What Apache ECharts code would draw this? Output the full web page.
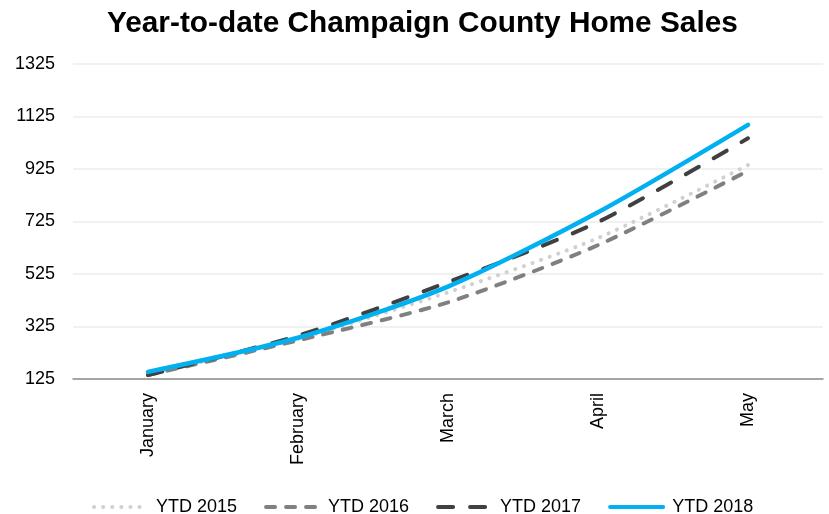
<!DOCTYPE html>
<html>
<head>
<meta charset="utf-8">
<script src="https://cdn.jsdelivr.net/npm/echarts@6/dist/echarts.min.js"></script>
<style>
html, body { margin: 0; padding: 0; background: #fff; }
#chart { width: 829px; height: 514px; }
</style>
</head>
<body>
<div id="chart"></div>
<script>
// months on the x axis
var months = ['January', 'February', 'March', 'April', 'May'];
// year-to-date sales
var ytd2015 = [145, 278, 455, 662, 940];
var ytd2016 = [140, 272, 417, 635, 918];
var ytd2017 = [140, 290, 494, 723, 1042];
var ytd2018 = [152, 282, 477, 760, 1093];

var myChart = echarts.init(document.getElementById('chart'));

function lineSeries(name, data, color, dash, width) {
	return {
		name : name,
		type : 'line',
		data : data,
		smooth : 0.25,
		showSymbol : false,
		symbol : 'none',
		lineStyle : {
			color : color,
			width : width,
			type : dash,
			cap : 'round'
		},
		itemStyle : { color : color }
	};
}

var option = {
	animation : false,
	title : {
		text : 'Year-to-date Champaign County Home Sales',
		left : 102,
		top : 4,
		textStyle : {
			fontFamily : 'Liberation Sans',
			fontSize : 29.8,
			fontWeight : 'bold',
			color : '#000'
		}
	},
	grid : {
		left : 73,
		right : 6,
		top : 64,
		bottom : 135
	},
	legend : {
		top : 493,
		left : 87,
		itemWidth : 53,
		itemHeight : 14,
		itemGap : 27,
		itemStyle : { opacity : 0 },
		lineStyle : { width : 4, cap : 'round' },
		textStyle : {
			fontFamily : 'Liberation Sans',
			fontSize : 18,
			color : '#000',
			padding : [0, 0, 0, 4]
		},
		data : ['YTD 2015', 'YTD 2016', 'YTD 2017', 'YTD 2018']
	},
	xAxis : {
		type : 'category',
		data : months,
		boundaryGap : true,
		axisLine : { lineStyle : { color : '#8c8c8c', width : 1.5 } },
		axisTick : { show : false },
		axisLabel : {
			rotate : 90,
			margin : 14,
			fontFamily : 'Liberation Sans',
			fontSize : 18,
			color : '#000'
		}
	},
	yAxis : {
		type : 'value',
		min : 125,
		max : 1325,
		interval : 200,
		axisLine : { show : false },
		axisTick : { show : false },
		splitLine : { lineStyle : { color : '#ececec', width : 1.5 } },
		axisLabel : {
			margin : 18,
			fontFamily : 'Liberation Sans',
			fontSize : 18,
			color : '#000',
			formatter : function (v) { return String(v); }
		}
	},
	series : [
		lineSeries('YTD 2015', ytd2015, '#d0d0d0', [0.1, 9], 4),
		lineSeries('YTD 2016', ytd2016, '#808080', [9, 11], 4),
		lineSeries('YTD 2017', ytd2017, '#404040', [15, 17], 4),
		lineSeries('YTD 2018', ytd2018, '#00b0f0', 'solid', 4.5)
	]
};
myChart.setOption(option);
</script>
</body>
</html>
